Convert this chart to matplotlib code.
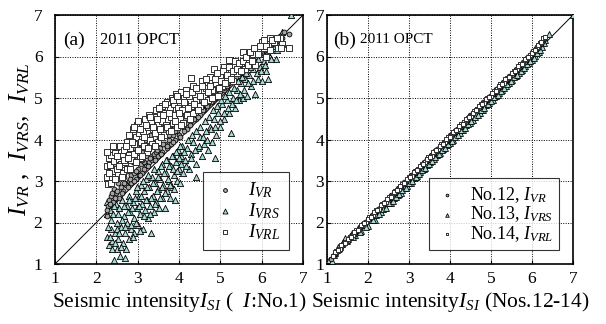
import numpy as np
import matplotlib
matplotlib.use("Agg")
import matplotlib.pyplot as plt

plt.rcParams['font.family'] = 'Liberation Serif'
plt.rcParams['mathtext.fontset'] = 'custom'
plt.rcParams['mathtext.rm'] = 'Liberation Serif'
plt.rcParams['mathtext.it'] = 'Liberation Serif:italic'

# ---- panel (a): I_SI (No.1) vs I_VR / I_VRS / I_VRL as (x, y) ----
a_vrl = [(2.25, 3.35), (2.27, 3.10), (2.28, 2.92), (2.30, 3.55), (2.33, 3.38), (2.35, 3.62), (2.38, 3.05),
         (2.40, 3.25), (2.42, 3.48), (2.45, 3.70), (2.47, 3.82), (2.50, 3.30), (2.52, 3.15), (2.55, 3.52),
         (2.57, 3.85), (2.60, 3.40), (2.62, 3.60), (2.65, 3.20), (2.68, 3.75), (2.70, 3.45), (2.73, 3.95),
         (2.75, 3.30), (2.78, 3.62), (2.80, 4.10), (2.82, 3.80), (2.85, 3.50), (2.88, 4.25), (2.90, 3.90),
         (2.92, 3.65), (2.95, 4.05), (2.98, 4.35), (3.00, 3.75), (3.03, 4.15), (3.05, 3.55), (3.08, 3.95),
         (3.10, 4.40), (3.12, 4.20), (3.15, 3.85), (3.18, 4.50), (3.20, 4.05), (3.22, 3.70), (3.25, 4.30),
         (3.28, 4.60), (3.30, 4.00), (3.33, 4.45), (3.35, 3.90), (3.38, 4.25), (3.40, 4.55), (3.43, 4.15),
         (3.45, 4.70), (3.48, 4.35), (3.50, 3.95), (3.53, 4.60), (3.55, 4.25), (3.58, 4.80), (3.60, 4.45),
         (3.63, 4.10), (3.65, 4.65), (3.68, 4.35), (3.70, 4.90), (3.73, 4.50), (3.75, 4.20), (3.78, 4.75),
         (3.80, 4.55), (3.83, 5.00), (3.85, 4.40), (3.88, 4.85), (3.90, 4.60), (3.93, 5.10), (3.95, 4.30),
         (3.98, 4.75), (4.00, 4.95), (4.03, 4.50), (4.05, 5.15), (4.08, 4.70), (4.10, 4.40), (4.13, 5.00),
         (4.15, 4.85), (4.18, 5.20), (4.20, 4.60), (4.25, 5.05), (4.28, 4.80), (4.30, 5.48), (4.33, 4.65),
         (4.35, 5.30), (4.40, 4.95), (4.45, 5.20), (4.50, 4.80), (4.55, 5.40), (4.60, 5.05), (4.65, 5.25),
         (4.70, 4.95), (4.75, 5.50), (4.80, 5.20), (4.85, 5.70), (4.90, 5.35), (4.95, 5.05), (5.00, 5.55),
         (5.05, 5.30), (5.10, 5.75), (5.15, 5.45), (5.20, 5.92), (5.25, 5.60), (5.30, 5.40), (5.35, 5.80),
         (5.40, 5.60), (5.50, 5.85), (5.55, 6.10), (5.60, 5.70), (5.70, 5.95), (5.80, 6.05), (5.85, 5.80),
         (5.90, 6.15), (6.00, 6.35), (6.05, 6.20), (6.10, 6.00), (6.15, 6.30), (6.20, 6.45), (6.30, 6.35),
         (6.40, 6.20), (6.45, 6.45), (6.50, 6.30), (6.65, 6.20),
         (2.26, 3.70), (2.31, 3.20), (2.36, 2.95), (2.41, 3.85), (2.46, 3.05), (2.51, 3.60), (2.56, 3.35),
         (2.61, 3.10), (2.66, 3.50), (2.71, 3.85), (2.76, 3.55), (2.81, 3.30), (2.86, 3.95), (2.91, 4.30),
         (2.96, 3.45), (3.01, 4.45), (3.06, 4.25), (3.11, 3.60), (3.16, 4.05), (3.21, 4.35), (3.26, 3.80),
         (3.31, 4.55), (3.36, 4.30), (3.41, 3.85), (3.46, 4.50), (3.51, 4.75), (3.56, 4.05), (3.61, 4.60),
         (3.66, 4.85), (3.71, 4.30), (3.76, 4.65), (3.81, 4.20), (3.86, 4.95), (3.91, 4.45), (3.96, 5.05),
         (4.01, 4.65), (4.06, 4.35), (4.11, 4.90), (4.16, 5.10), (4.21, 4.75), (4.26, 4.50), (4.31, 5.15),
         (4.36, 4.85), (4.41, 5.25), (4.46, 4.70), (4.51, 5.05), (4.56, 5.30), (4.61, 4.90), (4.66, 5.45),
         (4.71, 5.15), (4.76, 5.30), (4.81, 5.00), (4.86, 5.45), (4.91, 5.60), (4.96, 5.25), (5.01, 5.40),
         (5.06, 5.65), (5.11, 5.35), (5.16, 5.55), (5.21, 5.75), (5.26, 5.45), (5.31, 5.65), (5.36, 5.90),
         (5.41, 5.70), (5.46, 5.85), (5.51, 5.65), (5.56, 5.90), (5.61, 6.00), (5.66, 5.80), (5.71, 6.10),
         (5.76, 5.90), (5.81, 6.20), (5.91, 6.05), (5.96, 6.25), (6.06, 6.40), (6.11, 6.25), (6.21, 6.15),
         (6.26, 6.40), (6.36, 6.45), (6.46, 6.20)]

a_vr = [(2.25, 2.15), (2.28, 2.40), (2.30, 2.55), (2.33, 3.30), (2.35, 2.65), (2.38, 3.50), (2.40, 2.50),
        (2.42, 2.80), (2.45, 3.40), (2.48, 2.70), (2.50, 3.60), (2.52, 2.95), (2.55, 2.60), (2.58, 3.20),
        (2.60, 2.85), (2.62, 3.45), (2.65, 2.75), (2.68, 3.10), (2.70, 3.55), (2.72, 2.90), (2.75, 3.25),
        (2.78, 3.00), (2.80, 3.70), (2.83, 3.15), (2.85, 2.95), (2.88, 3.45), (2.90, 3.20), (2.93, 3.80),
        (2.95, 3.05), (2.98, 3.55), (3.00, 3.30), (3.03, 3.15), (3.05, 3.90), (3.08, 3.40), (3.10, 3.20),
        (3.13, 3.70), (3.15, 3.45), (3.18, 4.00), (3.20, 3.35), (3.23, 3.60), (3.25, 3.85), (3.28, 3.45),
        (3.30, 4.10), (3.33, 3.60), (3.35, 3.50), (3.38, 3.90), (3.40, 3.65), (3.43, 4.20), (3.45, 3.70),
        (3.48, 3.95), (3.50, 3.60), (3.53, 4.25), (3.55, 3.80), (3.58, 4.05), (3.60, 3.70), (3.63, 4.35),
        (3.65, 3.90), (3.68, 4.15), (3.70, 3.80), (3.73, 4.40), (3.75, 4.00), (3.78, 4.25), (3.80, 3.90),
        (3.83, 4.50), (3.85, 4.10), (3.88, 4.30), (3.90, 4.00), (3.93, 4.55), (3.95, 4.20), (3.98, 4.40),
        (4.00, 4.10), (4.05, 4.60), (4.10, 4.30), (4.15, 4.50), (4.20, 4.25), (4.25, 4.75), (4.30, 4.45),
        (4.35, 4.60), (4.40, 4.50), (4.45, 4.90), (4.50, 4.60), (4.55, 4.80), (4.60, 4.70), (4.65, 5.05),
        (4.70, 4.85), (4.75, 4.95), (4.80, 4.90), (4.85, 5.20), (4.90, 5.00), (4.95, 5.10), (5.00, 5.15),
        (5.05, 5.40), (5.10, 5.20), (5.15, 5.30), (5.20, 5.35), (5.25, 5.55), (5.30, 5.40), (5.35, 5.50),
        (5.40, 5.60), (5.45, 5.70), (5.50, 5.60), (5.60, 5.80), (5.65, 5.75), (5.70, 5.85), (5.80, 5.95),
        (5.85, 6.00), (5.90, 6.05), (6.00, 6.10), (6.05, 6.20), (6.10, 6.15), (6.20, 6.25), (6.30, 6.30),
        (6.40, 6.40), (6.50, 6.45), (6.55, 6.60), (6.65, 6.55),
        (2.27, 2.30), (2.32, 2.45), (2.37, 2.70), (2.41, 3.05), (2.46, 2.60), (2.51, 2.75), (2.56, 3.30),
        (2.61, 2.70), (2.66, 2.95), (2.71, 3.35), (2.76, 2.85), (2.81, 3.05), (2.86, 3.60), (2.91, 3.00),
        (2.96, 3.25), (3.01, 3.65), (3.06, 3.15), (3.11, 3.50), (3.16, 3.30), (3.21, 3.75), (3.26, 3.35),
        (3.31, 3.55), (3.36, 3.95), (3.41, 3.50), (3.46, 3.75), (3.51, 4.05), (3.56, 3.65), (3.61, 3.90),
        (3.66, 4.20), (3.71, 3.85), (3.76, 4.10), (3.81, 4.35), (3.86, 3.95), (3.91, 4.20), (3.96, 4.45),
        (4.02, 4.05), (4.07, 4.35), (4.12, 4.20), (4.17, 4.65), (4.22, 4.40), (4.27, 4.35), (4.32, 4.70),
        (4.37, 4.50), (4.42, 4.80), (4.47, 4.55), (4.52, 4.95), (4.57, 4.70), (4.62, 4.85), (4.67, 4.80),
        (4.72, 5.10), (4.77, 4.90), (4.82, 5.05), (4.87, 5.00), (4.92, 5.25), (4.97, 5.05), (5.02, 5.30),
        (5.07, 5.25), (5.12, 5.45), (5.17, 5.30), (5.22, 5.50), (5.27, 5.40), (5.32, 5.60), (5.37, 5.50),
        (5.42, 5.75), (5.47, 5.60), (5.55, 5.70), (5.62, 5.90), (5.68, 5.80), (5.75, 6.00), (5.82, 5.90),
        (5.88, 6.10), (5.95, 6.05), (6.02, 6.25), (6.08, 6.15), (6.15, 6.30), (6.25, 6.35), (6.35, 6.35),
        (6.45, 6.50)]

a_vrs = [(2.25, 2.50), (2.27, 1.65), (2.30, 1.45), (2.32, 2.30), (2.35, 1.85), (2.38, 1.55), (2.40, 2.20),
         (2.42, 1.10), (2.45, 1.75), (2.47, 2.45), (2.50, 1.35), (2.50, 2.00), (2.53, 1.60), (2.55, 2.35),
         (2.57, 1.20), (2.60, 1.90), (2.62, 2.55), (2.65, 1.50), (2.67, 2.15), (2.70, 1.75), (2.70, 1.15),
         (2.73, 2.40), (2.75, 2.00), (2.78, 1.60), (2.80, 2.65), (2.82, 2.25), (2.85, 1.85), (2.88, 2.50),
         (2.90, 2.10), (2.92, 1.75), (2.95, 2.75), (2.98, 2.35), (3.00, 1.95), (3.02, 2.60), (3.05, 2.20),
         (3.08, 2.90), (3.10, 2.45), (3.12, 1.85), (3.15, 2.75), (3.18, 2.30), (3.20, 3.05), (3.22, 2.55),
         (3.25, 2.10), (3.28, 2.85), (3.30, 2.40), (3.32, 1.75), (3.35, 3.10), (3.38, 2.65), (3.40, 2.25),
         (3.43, 2.95), (3.45, 2.50), (3.48, 3.25), (3.50, 2.80), (3.52, 2.35), (3.55, 3.05), (3.58, 2.60),
         (3.60, 3.40), (3.62, 2.90), (3.65, 2.35), (3.68, 3.20), (3.70, 2.75), (3.72, 3.50), (3.75, 3.00),
         (3.78, 2.60), (3.80, 3.35), (3.83, 2.85), (3.85, 3.60), (3.88, 3.15), (3.90, 2.55), (3.93, 3.45),
         (3.95, 3.00), (3.98, 3.75), (4.00, 3.30), (4.03, 2.95), (4.05, 3.60), (4.08, 3.85), (4.10, 3.20),
         (4.15, 3.50), (4.20, 3.80), (4.25, 3.30), (4.30, 3.65), (4.35, 3.95), (4.40, 3.40), (4.40, 3.10),
         (4.45, 3.80), (4.50, 4.05), (4.55, 3.60), (4.60, 3.90), (4.65, 4.20), (4.70, 3.75), (4.75, 4.30),
         (4.80, 3.95), (4.85, 4.50), (4.87, 3.55), (4.90, 4.10), (4.95, 4.65), (5.00, 4.30), (5.05, 4.85),
         (5.10, 4.50), (5.15, 4.95), (5.20, 4.65), (5.25, 4.15), (5.30, 5.00), (5.35, 4.75), (5.40, 5.20),
         (5.45, 4.95), (5.50, 5.35), (5.55, 5.00), (5.60, 5.45), (5.65, 5.05), (5.70, 5.55), (5.75, 5.30),
         (5.80, 5.70), (5.85, 5.10), (5.90, 5.45), (5.95, 5.75), (6.00, 5.40), (6.05, 5.90), (6.10, 5.65),
         (6.15, 5.45), (6.20, 6.00), (6.30, 6.20), (6.35, 5.95), (6.40, 6.35), (6.50, 6.60), (6.70, 7.00),
         (2.26, 2.20), (2.29, 1.90), (2.33, 1.65), (2.36, 2.05), (2.39, 1.35), (2.43, 2.40), (2.46, 1.50),
         (2.49, 1.85), (2.52, 2.20), (2.56, 1.75), (2.59, 1.40), (2.63, 2.05), (2.66, 2.40), (2.69, 1.90),
         (2.72, 1.35), (2.76, 2.25), (2.79, 2.55), (2.83, 1.95), (2.86, 2.35), (2.89, 1.65), (2.93, 2.60),
         (2.96, 2.00), (2.99, 2.85), (3.03, 2.40), (3.06, 1.80), (3.09, 2.65), (3.13, 3.00), (3.16, 2.15),
         (3.19, 2.55), (3.23, 2.85), (3.26, 3.15), (3.29, 2.20), (3.33, 2.60), (3.36, 2.95), (3.39, 3.30),
         (3.42, 2.45), (3.46, 2.75), (3.49, 3.10), (3.53, 2.60), (3.56, 3.35), (3.59, 2.85), (3.63, 3.20),
         (3.66, 2.70), (3.69, 3.50), (3.73, 3.05), (3.76, 3.35), (3.79, 2.90), (3.82, 3.60), (3.86, 3.30),
         (3.89, 2.80), (3.92, 3.70), (3.96, 3.25), (3.99, 3.55), (4.02, 3.85), (4.06, 3.40), (4.12, 3.70),
         (4.18, 3.35), (4.22, 4.00), (4.28, 3.55), (4.32, 4.10), (4.38, 3.75), (4.42, 4.20), (4.48, 3.85),
         (4.52, 4.30), (4.58, 4.05), (4.62, 4.45), (4.68, 4.00), (4.72, 4.55), (4.78, 4.25), (4.82, 4.70),
         (4.88, 4.30), (4.92, 4.80), (4.98, 4.45), (5.02, 4.95), (5.08, 4.65), (5.12, 5.05), (5.18, 4.75),
         (5.22, 5.15), (5.28, 4.85), (5.32, 5.25), (5.38, 4.95), (5.42, 5.40), (5.48, 5.10), (5.52, 5.50),
         (5.58, 5.20), (5.62, 5.60), (5.68, 5.35), (5.72, 5.75), (5.78, 5.40), (5.82, 5.85), (5.88, 5.60),
         (5.92, 5.95), (5.98, 5.65), (6.02, 6.05), (6.08, 5.80), (6.12, 6.10), (6.22, 5.95), (6.28, 6.25),
         (6.38, 6.15), (6.45, 6.50)]

# ---- panel (b): I_SI (Nos.12-14) vs I_VR (No.12), I_VRS (No.13), I_VRL (No.14) ----
b_vr = [(1.10, 1.13), (1.18, 1.22), (1.27, 1.33), (1.35, 1.40), (1.42, 1.49), (1.50, 1.55), (1.57, 1.64),
        (1.66, 1.71), (1.73, 1.80), (1.81, 1.86), (1.90, 1.97), (1.97, 2.02), (2.05, 2.12), (2.13, 2.18),
        (2.21, 2.28), (2.30, 2.35), (2.37, 2.44), (2.45, 2.50), (2.52, 2.59), (2.61, 2.66), (2.70, 2.77),
        (2.77, 2.82), (2.85, 2.92), (2.93, 2.98), (3.02, 3.09), (3.10, 3.15), (3.17, 3.24), (3.25, 3.30),
        (3.33, 3.40), (3.42, 3.47), (3.50, 3.57), (3.58, 3.63), (3.66, 3.73), (3.74, 3.79), (3.82, 3.89),
        (3.90, 3.95), (3.98, 4.05), (4.06, 4.11), (4.14, 4.21), (4.22, 4.27), (4.30, 4.37), (4.38, 4.43),
        (4.46, 4.53), (4.54, 4.59), (4.62, 4.69), (4.70, 4.75), (4.78, 4.85), (4.86, 4.91), (4.94, 5.01),
        (5.02, 5.07), (5.10, 5.17), (5.18, 5.23), (5.26, 5.33), (5.34, 5.39), (5.42, 5.49), (5.50, 5.55),
        (5.58, 5.65), (5.66, 5.71), (5.74, 5.81), (5.82, 5.87), (5.90, 5.97), (5.98, 6.03), (6.06, 6.14),
        (6.14, 6.21), (6.22, 6.30), (6.30, 6.42),
        (1.14, 1.20), (1.22, 1.27), (1.31, 1.33), (1.39, 1.47), (1.46, 1.52), (1.54, 1.63), (1.62, 1.69),
        (1.70, 1.79), (1.77, 1.83), (1.85, 1.95), (1.93, 2.01), (2.01, 2.09), (2.09, 2.17), (2.17, 2.25),
        (2.25, 2.33), (2.33, 2.41), (2.41, 2.50), (2.49, 2.56), (2.57, 2.66), (2.65, 2.72), (2.73, 2.82),
        (2.81, 2.88), (2.89, 2.98), (2.97, 3.04), (3.05, 3.14), (3.13, 3.20), (3.21, 3.30), (3.29, 3.36),
        (3.37, 3.46), (3.45, 3.52), (3.53, 3.62), (3.61, 3.68), (3.69, 3.78), (3.77, 3.84), (3.85, 3.94),
        (3.93, 4.00), (4.01, 4.10), (4.09, 4.16), (4.17, 4.26), (4.25, 4.32), (4.33, 4.42), (4.41, 4.48),
        (4.49, 4.58), (4.57, 4.64), (4.65, 4.74), (4.73, 4.80), (4.81, 4.90), (4.89, 4.96), (4.97, 5.06),
        (5.05, 5.12), (5.13, 5.22), (5.21, 5.28), (5.29, 5.38), (5.37, 5.44), (5.45, 5.54), (5.53, 5.60),
        (5.61, 5.70), (5.69, 5.76), (5.77, 5.86), (5.85, 5.92), (5.93, 6.02), (6.01, 6.10), (6.09, 6.20),
        (6.17, 6.28), (6.25, 6.36)]

b_vrs = [(1.05, 1.10), (1.12, 1.08), (1.20, 1.26), (1.28, 1.42), (1.36, 1.48), (1.44, 1.62), (1.52, 1.60),
         (1.60, 1.74), (1.68, 1.70), (1.76, 1.86), (1.84, 1.80), (1.92, 1.98), (2.00, 1.92), (2.08, 2.10),
         (2.16, 2.06), (2.24, 2.22), (2.32, 2.26), (2.40, 2.34), (2.48, 2.46), (2.56, 2.48), (2.64, 2.60),
         (2.72, 2.66), (2.80, 2.72), (2.88, 2.84), (2.96, 2.88), (3.04, 2.96), (3.12, 3.08), (3.20, 3.12),
         (3.28, 3.22), (3.36, 3.30), (3.44, 3.38), (3.52, 3.46), (3.60, 3.52), (3.68, 3.62), (3.76, 3.68),
         (3.84, 3.76), (3.92, 3.86), (4.00, 3.92), (4.08, 4.00), (4.16, 4.10), (4.24, 4.16), (4.32, 4.24),
         (4.40, 4.34), (4.48, 4.40), (4.56, 4.48), (4.64, 4.58), (4.72, 4.64), (4.80, 4.72), (4.88, 4.82),
         (4.96, 4.88), (5.04, 4.96), (5.12, 5.06), (5.20, 5.12), (5.28, 5.20), (5.36, 5.30), (5.44, 5.36),
         (5.52, 5.44), (5.60, 5.54), (5.68, 5.60), (5.76, 5.68), (5.84, 5.78), (5.92, 5.84), (6.00, 5.92),
         (6.08, 6.02), (6.16, 6.12), (6.24, 6.22), (6.32, 6.40), (6.42, 6.55), (7.00, 7.00),
         (1.16, 1.22), (1.24, 1.34), (1.32, 1.40), (1.40, 1.53), (1.48, 1.55), (1.56, 1.68), (1.64, 1.66),
         (1.72, 1.80), (1.80, 1.78), (1.88, 1.94), (1.96, 1.90), (2.04, 2.06), (2.12, 2.06), (2.20, 2.18),
         (2.28, 2.20), (2.36, 2.32), (2.44, 2.36), (2.52, 2.46), (2.60, 2.52), (2.68, 2.62), (2.76, 2.68),
         (2.84, 2.78), (2.92, 2.84), (3.00, 2.94), (3.08, 3.00), (3.16, 3.10), (3.24, 3.16), (3.32, 3.26),
         (3.40, 3.32), (3.48, 3.42), (3.56, 3.48), (3.64, 3.58), (3.72, 3.64), (3.80, 3.74), (3.88, 3.80),
         (3.96, 3.90), (4.04, 3.96), (4.12, 4.06), (4.20, 4.12), (4.28, 4.22), (4.36, 4.28), (4.44, 4.38),
         (4.52, 4.44), (4.60, 4.54), (4.68, 4.60), (4.76, 4.70), (4.84, 4.76), (4.92, 4.86), (5.00, 4.92),
         (5.08, 5.02), (5.16, 5.08), (5.24, 5.18), (5.32, 5.24), (5.40, 5.34), (5.48, 5.40), (5.56, 5.50),
         (5.64, 5.56), (5.72, 5.66), (5.80, 5.72), (5.88, 5.82), (5.96, 5.88), (6.04, 5.96), (6.12, 6.08),
         (6.20, 6.15), (6.30, 6.32)]

b_vrl = [(1.15, 1.20), (1.23, 1.31), (1.31, 1.37), (1.39, 1.49), (1.47, 1.53), (1.55, 1.65), (1.63, 1.69),
         (1.71, 1.81), (1.79, 1.85), (1.87, 1.97), (1.95, 2.01), (2.03, 2.13), (2.11, 2.17), (2.19, 2.29),
         (2.27, 2.33), (2.35, 2.45), (2.43, 2.49), (2.51, 2.61), (2.59, 2.65), (2.67, 2.77), (2.75, 2.81),
         (2.83, 2.93), (2.91, 2.97), (2.99, 3.09), (3.07, 3.13), (3.15, 3.25), (3.23, 3.29), (3.31, 3.41),
         (3.39, 3.45), (3.47, 3.57), (3.55, 3.61), (3.63, 3.73), (3.71, 3.77), (3.79, 3.89), (3.87, 3.93),
         (3.95, 4.05), (4.03, 4.09), (4.11, 4.21), (4.19, 4.25), (4.27, 4.37), (4.35, 4.41), (4.43, 4.53),
         (4.51, 4.57), (4.59, 4.69), (4.67, 4.73), (4.75, 4.85), (4.83, 4.89), (4.91, 5.01), (4.99, 5.05),
         (5.07, 5.17), (5.15, 5.21), (5.23, 5.33), (5.31, 5.37), (5.39, 5.49), (5.47, 5.53), (5.55, 5.65),
         (5.63, 5.69), (5.71, 5.81), (5.79, 5.85), (5.87, 5.97), (5.95, 6.03), (6.03, 6.13), (6.11, 6.22),
         (6.19, 6.32), (6.27, 6.45),
         (1.19, 1.28), (1.27, 1.33), (1.35, 1.45), (1.43, 1.50), (1.51, 1.61), (1.59, 1.66), (1.67, 1.77),
         (1.75, 1.82), (1.83, 1.93), (1.91, 1.98), (1.99, 2.09), (2.07, 2.14), (2.15, 2.25), (2.23, 2.30),
         (2.31, 2.41), (2.39, 2.46), (2.47, 2.57), (2.55, 2.62), (2.63, 2.73), (2.71, 2.78), (2.79, 2.89),
         (2.87, 2.94), (2.95, 3.05), (3.03, 3.10), (3.11, 3.21), (3.19, 3.26), (3.27, 3.37), (3.35, 3.42),
         (3.43, 3.53), (3.51, 3.58), (3.59, 3.69), (3.67, 3.74), (3.75, 3.85), (3.83, 3.90), (3.91, 4.01),
         (3.99, 4.06), (4.07, 4.17), (4.15, 4.22), (4.23, 4.33), (4.31, 4.38), (4.39, 4.49), (4.47, 4.54),
         (4.55, 4.65), (4.63, 4.70), (4.71, 4.81), (4.79, 4.86), (4.87, 4.97), (4.95, 5.02), (5.03, 5.13),
         (5.11, 5.18), (5.19, 5.29), (5.27, 5.34), (5.35, 5.45), (5.43, 5.50), (5.51, 5.61), (5.59, 5.66),
         (5.67, 5.77), (5.75, 5.82), (5.83, 5.93), (5.91, 5.98), (5.99, 6.09), (6.07, 6.16), (6.15, 6.27),
         (6.23, 6.36), (6.31, 6.48)]

ticks = [1, 2, 3, 4, 5, 6, 7]
tri_color = '#a6dcd6'


def style_axes(ax, ypad):
    ax.set_xlim(1, 7)
    ax.set_ylim(1, 7)
    ax.set_xticks(ticks)
    ax.set_yticks(ticks)
    ax.grid(True, color='black', linestyle=(0, (1, 1.5)), linewidth=0.7)
    ax.set_axisbelow(True)
    ax.tick_params(direction='in', length=3, width=0.8, labelsize=12.5)
    ax.tick_params(axis='x', pad=5)
    ax.tick_params(axis='y', pad=ypad)
    for s in ax.spines.values():
        s.set_linewidth(1.2)
    ax.plot([1, 7], [1, 7], color='black', linewidth=0.7, zorder=1.5)


def draw(ax, vr, vrs, vrl, labels, scale=1.0):
    vr, vrs, vrl = np.array(vr), np.array(vrs), np.array(vrl)
    h_vrs = ax.scatter(vrs[:, 0], vrs[:, 1], marker='^', s=20 * scale, facecolor=tri_color,
                       edgecolor='black', linewidth=0.6, zorder=3)
    h_vr = ax.scatter(vr[:, 0], vr[:, 1], marker='o', s=12 * scale, facecolor='#a5a5a5',
                      edgecolor='black', linewidth=0.6, zorder=3)
    h_vrl = ax.scatter(vrl[:, 0], vrl[:, 1], marker='s', s=13 * scale, facecolor='white',
                       edgecolor='#303030', linewidth=0.7, zorder=3)
    return [h_vr, h_vrs, h_vrl], labels


fig = plt.figure(figsize=(6.06, 3.24), dpi=100)
ax1 = fig.add_axes([55 / 606, 60 / 324, 248 / 606, 249 / 324])
ax2 = fig.add_axes([327 / 606, 60 / 324, 246 / 606, 249 / 324])
style_axes(ax1, 9)
style_axes(ax2, 2)

# panel (a)
h, l = draw(ax1, a_vr, a_vrs, a_vrl, ['$I_{VR}$', '$I_{VRS}$', '$I_{VRL}$'])
leg1 = ax1.legend(h, l, loc='lower right', fontsize=14, frameon=True, fancybox=False,
                  edgecolor='black', handletextpad=0.5, borderaxespad=0.7, labelspacing=0.05,
                  handlelength=1.4, borderpad=0.45, markerscale=0.8)
leg1.get_frame().set_linewidth(0.8)
ax1.text(1.19, 6.4, '(a)', fontsize=14, va='center')
ax1.text(2.1, 6.4, '2011 OPCT', fontsize=12, va='center')
ax1.set_xlabel('Seismic intensity$I_{SI}$ (  $I$:No.1)', fontsize=15.5, labelpad=2)
ax1.set_ylabel('$I_{VR}$ ,  $I_{VRS}$,  $I_{VRL}$', fontsize=18, labelpad=1)

# panel (b)
h, l = draw(ax2, b_vr, b_vrs, b_vrl, ['No.12, $I_{VR}$', 'No.13, $I_{VRS}$', 'No.14, $I_{VRL}$'],
            scale=0.9)
leg2 = ax2.legend(h, l, loc='lower right', fontsize=13, frameon=True, fancybox=False,
                  edgecolor='black', handletextpad=0.6, borderaxespad=0.75, labelspacing=0.0,
                  handlelength=1.3, borderpad=0.35, markerscale=0.6)
leg2.get_frame().set_linewidth(0.8)
ax2.text(1.15, 6.4, '(b)', fontsize=14, va='center')
ax2.text(1.8, 6.4, '2011 OPCT', fontsize=11, va='center')
ax2.set_xlabel('Seismic intensity$I_{SI}$ (Nos.12-14)', fontsize=15.5, labelpad=2)

fig.savefig('out.png', dpi=100)
